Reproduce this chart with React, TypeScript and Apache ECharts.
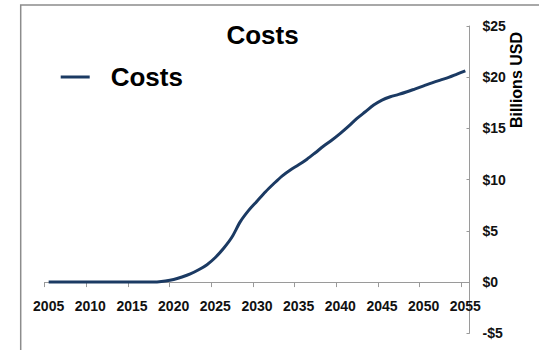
import React, { useEffect, useRef } from "react";
import * as echarts from "echarts";

const years: string[] = [];
for (let y = 2005; y <= 2055; y++) years.push(String(y));

const costs = [
  0, 0, 0, 0, 0, 0, 0, 0, 0, 0, 0, 0, 0, 0.02,
  0.1, 0.25, 0.5, 0.8, 1.2, 1.7, 2.4, 3.3, 4.4, 5.9, 7.0,
  7.9, 8.8, 9.6, 10.35, 10.95, 11.45, 12.0, 12.63, 13.28, 13.87,
  14.52, 15.23, 15.98, 16.63, 17.28, 17.77, 18.09, 18.32, 18.58, 18.87,
  19.16, 19.45, 19.72, 19.98, 20.3, 20.62,
];

const yTicks = { min: -5, max: 25, interval: 5 };
const titleText = "Costs";
const seriesName = "Costs";
const yAxisTitle = "Billions USD";

export default function App() {
  const ref = useRef<HTMLDivElement>(null);
  useEffect(() => {
    if (!ref.current) return;
    const chart = echarts.init(ref.current, undefined, { renderer: "svg" });
    const narrow = "'Liberation Sans Narrow', 'Arial Narrow', 'Liberation Sans', Arial, sans-serif";
    const sans = "'Liberation Sans', Arial, sans-serif";
    const gridTop = 26;
    const gridBottomY = 333.3;
    const zeroOffset = ((gridBottomY - gridTop) * (0 - yTicks.min)) / (yTicks.max - yTicks.min);
    chart.setOption({
      animation: false,
      backgroundColor: "#ffffff",
      title: {
        text: titleText,
        left: 262.5,
        top: 22,
        textAlign: "center",
        padding: 0,
        textStyle: { fontFamily: sans, fontWeight: "bold", fontSize: 26, color: "#000" },
      },
      legend: {
        left: 60.7,
        top: 64,
        padding: 0,
        icon: "rect",
        itemWidth: 29,
        itemHeight: 3,
        data: [seriesName],
        textStyle: {
          fontFamily: sans,
          fontWeight: "bold",
          fontSize: 26,
          color: "#000",
          padding: [0, 0, 0, 16],
        },
      },
      grid: {
        left: 44.5,
        right: 69.5,
        top: gridTop,
        bottom: 350 - gridBottomY,
        containLabel: false,
        outerBoundsMode: "none",
      },
      xAxis: {
        type: "category",
        data: years,
        boundaryGap: true,
        offset: -zeroOffset,
        axisLine: { onZero: false, lineStyle: { color: "#9a9a9a", width: 1 } },
        axisTick: { show: true, interval: 4, alignWithLabel: false, length: 5, lineStyle: { color: "#9a9a9a" } },
        axisLabel: {
          interval: 4,
          margin: 17,
          fontFamily: narrow,
          fontWeight: "bold",
          fontSize: 14,
          color: "#111",
        },
        splitLine: { show: false },
      },
      yAxis: {
        type: "value",
        position: "right",
        min: yTicks.min,
        max: yTicks.max,
        interval: yTicks.interval,
        axisLine: { show: true, lineStyle: { color: "#9a9a9a", width: 1 } },
        axisTick: { show: true, inside: true, length: 3, lineStyle: { color: "#9a9a9a" } },
        axisLabel: {
          margin: 13,
          fontFamily: narrow,
          fontWeight: "bold",
          fontSize: 14,
          color: "#111",
          formatter: (v: number) => (v < 0 ? "-$" + Math.abs(v) : "$" + v),
        },
        splitLine: { show: false },
      },
      graphic: [
        {
          type: "rect",
          shape: { x: 20.7, y: 5, width: 700, height: 500 },
          style: { fill: "none", stroke: "#8c8c8c", lineWidth: 1.5 },
          silent: true,
        },
        {
          type: "text",
          x: 516.7,
          y: 80,
          rotation: Math.PI / 2,
          style: {
            text: yAxisTitle,
            fontFamily: sans,
            fontWeight: "bold",
            fontSize: 16,
            fill: "#000",
            align: "center",
            verticalAlign: "middle",
          },
        },
      ],
      series: [
        {
          name: seriesName,
          type: "line",
          data: costs,
          symbol: "none",
          smooth: 0.3,
          lineStyle: { color: "#1b3a63", width: 3 },
          itemStyle: { color: "#1b3a63" },
        },
      ],
    });
    return () => chart.dispose();
  }, []);
  return (
    <div
      ref={ref}
      style={{ position: "absolute", left: 0, top: 0, width: 539, height: 350 }}
    />
  );
}
